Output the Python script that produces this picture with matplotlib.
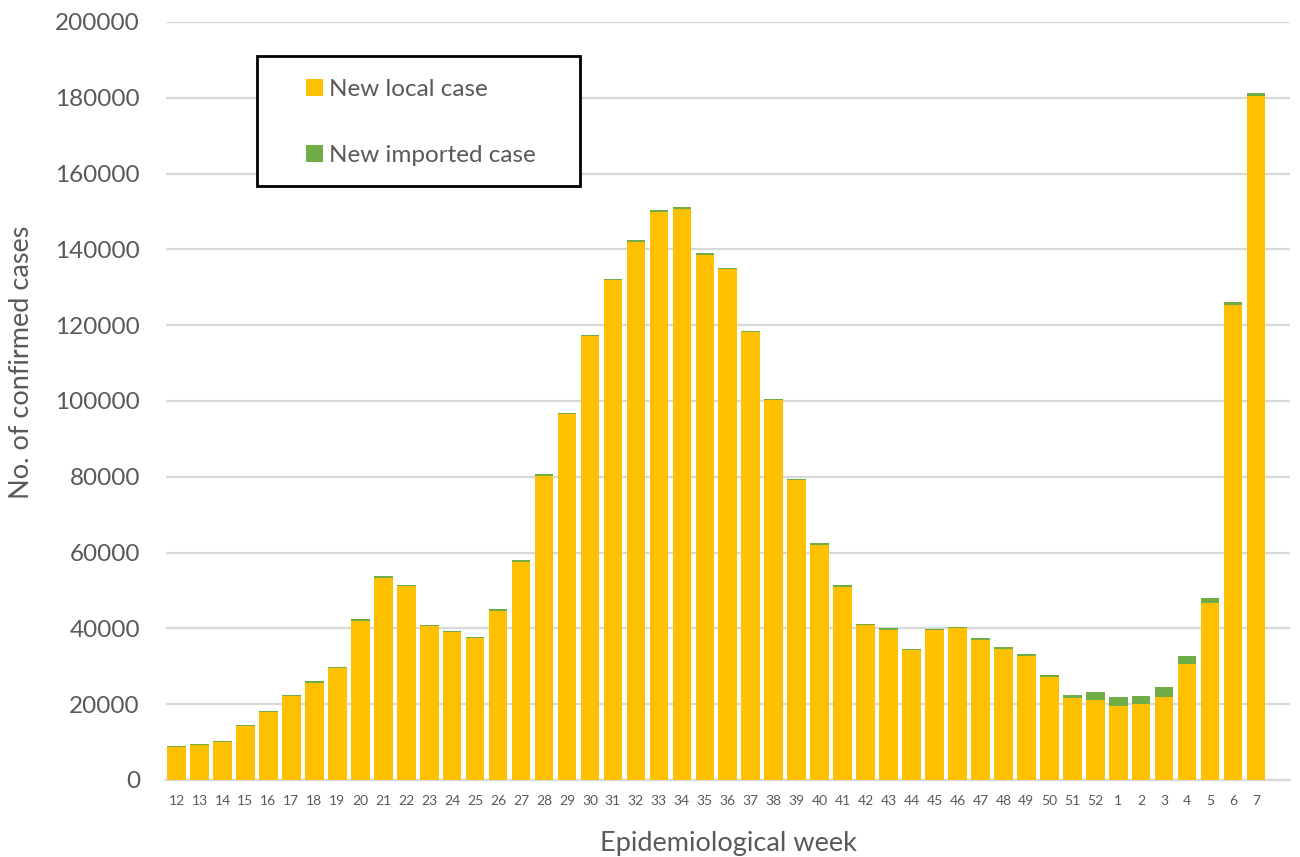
import matplotlib
matplotlib.use("Agg")
import matplotlib.pyplot as plt
from matplotlib.patches import Rectangle
import numpy as np

plt.rcParams['font.family'] = ['Lato', 'DejaVu Sans']

weeks = ['12', '13', '14', '15', '16', '17', '18', '19', '20', '21', '22', '23',
         '24', '25', '26', '27', '28', '29', '30', '31', '32', '33', '34', '35',
         '36', '37', '38', '39', '40', '41', '42', '43', '44', '45', '46', '47',
         '48', '49', '50', '51', '52', '1', '2', '3', '4', '5', '6', '7']

local_cases = [8720, 9170, 9950, 14130, 17820, 22040, 25690, 29520, 42050, 53400,
               51140, 40550, 39050, 37530, 44690, 57620, 80270, 96530, 117030, 131810,
               141970, 149890, 150680, 138550, 134750, 118120, 100230, 79120, 62060, 50980,
               40770, 39630, 34250, 39540, 39980, 36990, 34650, 32720, 27210, 21560,
               21040, 19600, 20050, 21900, 30600, 46790, 125350, 180580]

imported_cases = [250, 250, 250, 300, 300, 300, 350, 300, 350, 350,
                  400, 350, 350, 300, 350, 350, 400, 400, 400, 400,
                  450, 450, 450, 450, 450, 450, 400, 400, 400, 400,
                  400, 400, 400, 400, 400, 400, 450, 450, 500, 870,
                  2100, 2300, 2200, 2640, 2200, 1160, 880, 800]

y_ticks = [0, 20000, 40000, 60000, 80000, 100000, 120000, 140000, 160000, 180000, 200000]

LOCAL_COLOR = '#FFC000'
IMPORTED_COLOR = '#70AD47'
TEXT_COLOR = '#595959'
GRID_COLOR = '#D9D9D9'

W, H = 1300, 857
PX = 72 / 100  # points per pixel at 100 dpi

fig = plt.figure(figsize=(13, 8.57), dpi=100)
ax = fig.add_axes([166 / W, 1 - 780 / H, (1290 - 166) / W, (780 - 22) / H])

x = np.arange(len(weeks))
ax.bar(x, local_cases, width=0.81, color=LOCAL_COLOR, zorder=3,
       label='New local case')
ax.bar(x, imported_cases, width=0.81, bottom=local_cases, color=IMPORTED_COLOR,
       zorder=3, label='New imported case')

ax.set_ylim(0, 200000)
ax.set_xlim(-0.46, 48.48)
ax.set_yticks(y_ticks)
ax.set_yticklabels([str(v) for v in y_ticks])
ax.set_xticks(x)
ax.set_xticklabels(weeks)

ax.grid(axis='y', color=GRID_COLOR, linewidth=1.6, zorder=0)
ax.set_axisbelow(True)
for side in ['top', 'right', 'left']:
    ax.spines[side].set_visible(False)
ax.spines['bottom'].set_color(GRID_COLOR)
ax.spines['bottom'].set_linewidth(1.6)

ax.tick_params(axis='y', length=0, pad=26 * PX, labelsize=17.5, labelcolor=TEXT_COLOR)
ax.tick_params(axis='x', length=0, pad=11, labelsize=10, labelcolor=TEXT_COLOR)

fig.text(22 / W, 1 - 362 / H, 'No. of confirmed cases', rotation=90,
         ha='center', va='center', fontsize=19.5, color=TEXT_COLOR)
fig.text(728 / W, 1 - 843 / H, 'Epidemiological week',
         ha='center', va='center', fontsize=19.5, color=TEXT_COLOR)

# legend inside a black framed box
fig.patches.append(Rectangle((257 / W, 1 - 186 / H), (580 - 257) / W, (186 - 56) / H,
                             transform=fig.transFigure, fill=True, facecolor='white',
                             edgecolor='black', linewidth=2, zorder=5))
leg = fig.legend(loc='upper left', bbox_to_anchor=(306 / W, 1 - 79 / H),
                 frameon=False, fontsize=17.5, labelcolor=TEXT_COLOR,
                 handlelength=0.68, handleheight=0.68, handletextpad=0.28,
                 labelspacing=1.85, borderpad=0, borderaxespad=0)
leg.set_zorder(6)

fig.savefig('out.png', dpi=100, facecolor='white')
